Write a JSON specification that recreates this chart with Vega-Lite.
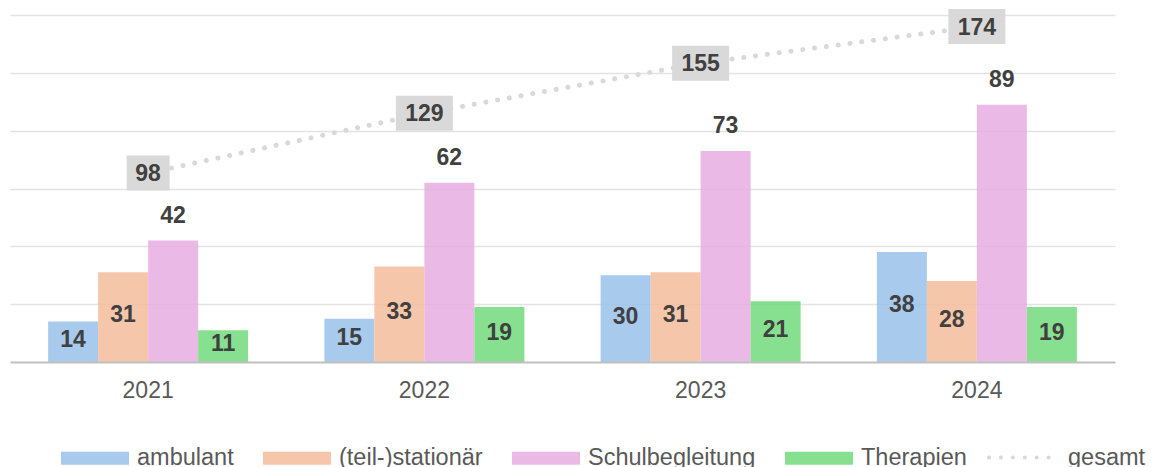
{
  "$schema": "https://vega.github.io/schema/vega-lite/v6.json",
  "width": 1105,
  "height": 347,
  "autosize": {"type": "none"},
  "padding": {"left": 10, "top": 15, "right": 36, "bottom": 105},
  "background": "white",
  "config": {"view": {"stroke": null}, "font": "Liberation Sans"},
  "datasets": {
    "balken": [
      {"Jahr": "2021", "Kategorie": "ambulant", "Wert": 14},
      {"Jahr": "2021", "Kategorie": "(teil-)stationär", "Wert": 31},
      {"Jahr": "2021", "Kategorie": "Schulbegleitung", "Wert": 42},
      {"Jahr": "2021", "Kategorie": "Therapien", "Wert": 11},
      {"Jahr": "2022", "Kategorie": "ambulant", "Wert": 15},
      {"Jahr": "2022", "Kategorie": "(teil-)stationär", "Wert": 33},
      {"Jahr": "2022", "Kategorie": "Schulbegleitung", "Wert": 62},
      {"Jahr": "2022", "Kategorie": "Therapien", "Wert": 19},
      {"Jahr": "2023", "Kategorie": "ambulant", "Wert": 30},
      {"Jahr": "2023", "Kategorie": "(teil-)stationär", "Wert": 31},
      {"Jahr": "2023", "Kategorie": "Schulbegleitung", "Wert": 73},
      {"Jahr": "2023", "Kategorie": "Therapien", "Wert": 21},
      {"Jahr": "2024", "Kategorie": "ambulant", "Wert": 38},
      {"Jahr": "2024", "Kategorie": "(teil-)stationär", "Wert": 28},
      {"Jahr": "2024", "Kategorie": "Schulbegleitung", "Wert": 89},
      {"Jahr": "2024", "Kategorie": "Therapien", "Wert": 19}
    ],
    "gesamt": [
      {"Jahr": "2021", "Reihe": "gesamt", "gesamt": 98},
      {"Jahr": "2022", "Reihe": "gesamt", "gesamt": 129},
      {"Jahr": "2023", "Reihe": "gesamt", "gesamt": 155},
      {"Jahr": "2024", "Reihe": "gesamt", "gesamt": 174}
    ]
  },
  "layer": [
    {
      "data": {"name": "balken"},
      "mark": {"type": "bar", "opacity": 0.85},
      "encoding": {
        "x": {
          "field": "Jahr", "type": "nominal",
          "scale": {"paddingInner": 0.276, "paddingOuter": 0.138},
          "axis": {"title": null, "ticks": false, "labelAngle": 0, "labelFontSize": 23, "labelColor": "#595959", "labelPadding": 17, "domainColor": "#bfbfbf", "domainWidth": 2, "grid": false, "zindex": 1}
        },
        "xOffset": {
          "field": "Kategorie", "type": "nominal",
          "scale": {"domain": ["ambulant", "(teil-)stationär", "Schulbegleitung", "Therapien"], "paddingInner": 0, "paddingOuter": 0}
        },
        "y": {
          "field": "Wert", "type": "quantitative",
          "scale": {"domain": [0, 120]},
          "axis": {"values": [20, 40, 60, 80, 100, 120], "labels": false, "ticks": false, "domain": false, "title": null, "gridColor": "#e3e3e3", "gridWidth": 1.5}
        },
        "fill": {
          "field": "Kategorie", "type": "nominal",
          "scale": {"domain": ["ambulant", "(teil-)stationär", "Schulbegleitung", "Therapien"], "range": ["#99c1e9", "#f3bc9b", "#e7ade0", "#72da7b"]},
          "legend": {"orient": "none", "legendX": 51, "legendY": 409, "direction": "horizontal", "title": null, "symbolType": "M-1,-0.19L1,-0.19L1,0.19L-1,0.19Z", "symbolSize": 4624, "symbolStrokeWidth": 0, "symbolOpacity": 0.85, "labelFontSize": 23.5, "labelLimit": 400, "labelColor": "#595959", "labelOffset": 8, "columnPadding": 29, "padding": 0}
        }
      }
    },
    {
      "data": {"name": "balken"},
      "transform": [{"filter": "datum.Kategorie != 'Schulbegleitung'"}],
      "mark": {"type": "text", "fontSize": 23, "fontWeight": "bold", "color": "#404040", "baseline": "middle", "dy": -2},
      "encoding": {
        "x": {"field": "Jahr", "type": "nominal"},
        "xOffset": {"field": "Kategorie", "type": "nominal", "scale": {"domain": ["ambulant", "(teil-)stationär", "Schulbegleitung", "Therapien"]}},
        "y": {"field": "Wert", "type": "quantitative", "scale": {"domain": [0, 240]}, "axis": null},
        "text": {"field": "Wert", "type": "quantitative"}
      }
    },
    {
      "data": {"name": "balken"},
      "transform": [{"filter": "datum.Kategorie == 'Schulbegleitung'"}],
      "mark": {"type": "text", "fontSize": 23, "fontWeight": "bold", "color": "#404040", "baseline": "middle", "dy": -25},
      "encoding": {
        "x": {"field": "Jahr", "type": "nominal"},
        "xOffset": {"field": "Kategorie", "type": "nominal", "scale": {"domain": ["ambulant", "(teil-)stationär", "Schulbegleitung", "Therapien"]}},
        "y": {"field": "Wert", "type": "quantitative", "scale": {"domain": [0, 120]}, "axis": null},
        "text": {"field": "Wert", "type": "quantitative"}
      }
    },
    {
      "data": {"name": "gesamt"},
      "mark": {"type": "line", "strokeDash": [0.1, 11.8], "strokeCap": "round", "strokeWidth": 5},
      "encoding": {
        "x": {"field": "Jahr", "type": "nominal"},
        "y": {"field": "gesamt", "type": "quantitative", "scale": {"domain": [0, 180]}, "axis": null},
        "stroke": {
          "field": "Reihe", "type": "nominal",
          "scale": {"domain": ["gesamt"], "range": ["#d9d9d9"]},
          "legend": {"orient": "none", "legendX": 977, "legendY": 406, "title": null, "symbolType": "stroke", "symbolSize": 4761, "symbolStrokeWidth": 4, "symbolDash": [0.1, 11.8], "labelFontSize": 23.5, "labelColor": "#595959", "labelOffset": 8, "padding": 0, "encode": {"symbols": {"update": {"strokeCap": {"value": "round"}}}}}
        }
      }
    },
    {
      "data": {"name": "gesamt"},
      "mark": {"type": "point", "filled": true, "color": "#d9d9d9", "opacity": 1, "strokeWidth": 0},
      "encoding": {
        "x": {"field": "Jahr", "type": "nominal"},
        "y": {"field": "gesamt", "type": "quantitative", "scale": {"domain": [0, 180]}, "axis": null},
        "shape": {"condition": {"test": "datum.gesamt >= 100", "value": "M-1,-0.614L1,-0.614L1,0.614L-1,0.614Z"}, "value": "M-1,-0.814L1,-0.814L1,0.814L-1,0.814Z"},
        "size": {"condition": {"test": "datum.gesamt >= 100", "value": 3249}, "value": 1849}
      }
    },
    {
      "data": {"name": "gesamt"},
      "mark": {"type": "text", "fontSize": 23, "fontWeight": "bold", "color": "#404040", "baseline": "middle", "dy": 1},
      "encoding": {
        "x": {"field": "Jahr", "type": "nominal"},
        "y": {"field": "gesamt", "type": "quantitative", "scale": {"domain": [0, 180]}, "axis": null},
        "text": {"field": "gesamt", "type": "quantitative"}
      }
    }
  ],
  "resolve": {"scale": {"y": "independent"}}
}
